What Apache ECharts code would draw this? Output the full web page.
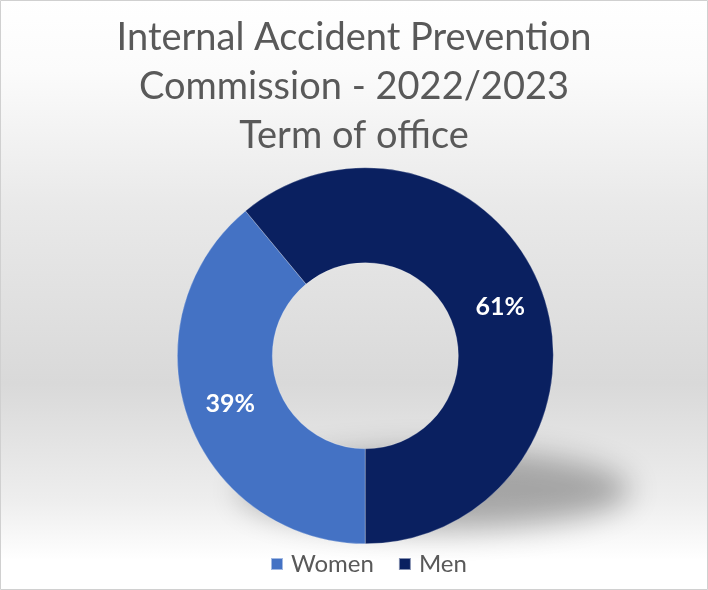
<!DOCTYPE html>
<html>
<head>
<meta charset="utf-8">
<script src="https://cdn.jsdelivr.net/npm/echarts@6/dist/echarts.min.js"></script>
<style>
html,body{margin:0;padding:0;background:#fff;}
#chart{width:708px;height:590px;}
</style>
</head>
<body>
<div id="chart"></div>
<script>
const titleLines = ['Internal Accident Prevention', 'Commission - 2022/2023', 'Term of office'];
const categories = ['Women', 'Men'];
const shares = [39, 61];
const sliceColors = ['#4472C4', '#0A2060'];

const chart = echarts.init(document.getElementById('chart'), null, {renderer: 'canvas'});

const option = {
  backgroundColor: {
    type: 'linear', x: 0, y: 0, x2: 0, y2: 1,
    colorStops: [
      {offset: 0, color: '#ffffff'},
      {offset: 0.12, color: '#fbfbfb'},
      {offset: 0.35, color: '#e9e9e9'},
      {offset: 0.65, color: '#d9d9d9'},
      {offset: 0.85, color: '#eeeeee'},
      {offset: 0.95, color: '#ffffff'},
      {offset: 1, color: '#ffffff'}
    ]
  },
  title: {
    text: titleLines.join('\n'),
    left: 'center',
    top: 8,
    textStyle: {
      fontFamily: 'Lato',
      fontWeight: 'normal',
      fontSize: 38,
      lineHeight: 49,
      color: '#595959'
    }
  },
  legend: {
    data: categories,
    bottom: 9,
    left: 265,
    icon: 'rect',
    itemWidth: 12,
    itemHeight: 12,
    itemGap: 24,
    textStyle: {fontFamily: 'Lato', fontSize: 24, color: '#595959', padding: [0, 0, 0, 3]}
  },
  graphic: [
    {
      type: 'rect',
      z: 100,
      silent: true,
      shape: {x: 0.5, y: 0.5, width: 707, height: 589},
      style: {fill: 'none', stroke: '#d0d0d0', lineWidth: 1}
    },
    {
      type: 'ellipse',
      z: -1,
      silent: true,
      shape: {cx: 435 - 1000, cy: 490, rx: 195, ry: 40},
      style: {
        fill: '#000',
        shadowBlur: 30,
        shadowColor: 'rgba(0,0,0,0.3)',
        shadowOffsetX: 1000,
        shadowOffsetY: 0
      }
    }
  ],
  series: [{
    type: 'pie',
    center: ['51.6%', '60.3%'],
    radius: [93, 188],
    startAngle: -90,
    clockwise: true,
    avoidLabelOverlap: false,
    label: {
      show: true,
      position: 'inside',
      formatter: '{c}%',
      color: '#ffffff',
      fontFamily: 'Lato',
      fontWeight: 'bold',
      fontSize: 25
    },
    labelLine: {show: false},
    emphasis: {disabled: true},
    itemStyle: {borderColor: 'rgba(255,255,255,0.5)', borderWidth: 0.5},
    data: categories.map((c, i) => ({
      name: c,
      value: shares[i],
      itemStyle: {color: sliceColors[i]}
    }))
  }]
};
chart.setOption(option);
</script>
</body>
</html>
